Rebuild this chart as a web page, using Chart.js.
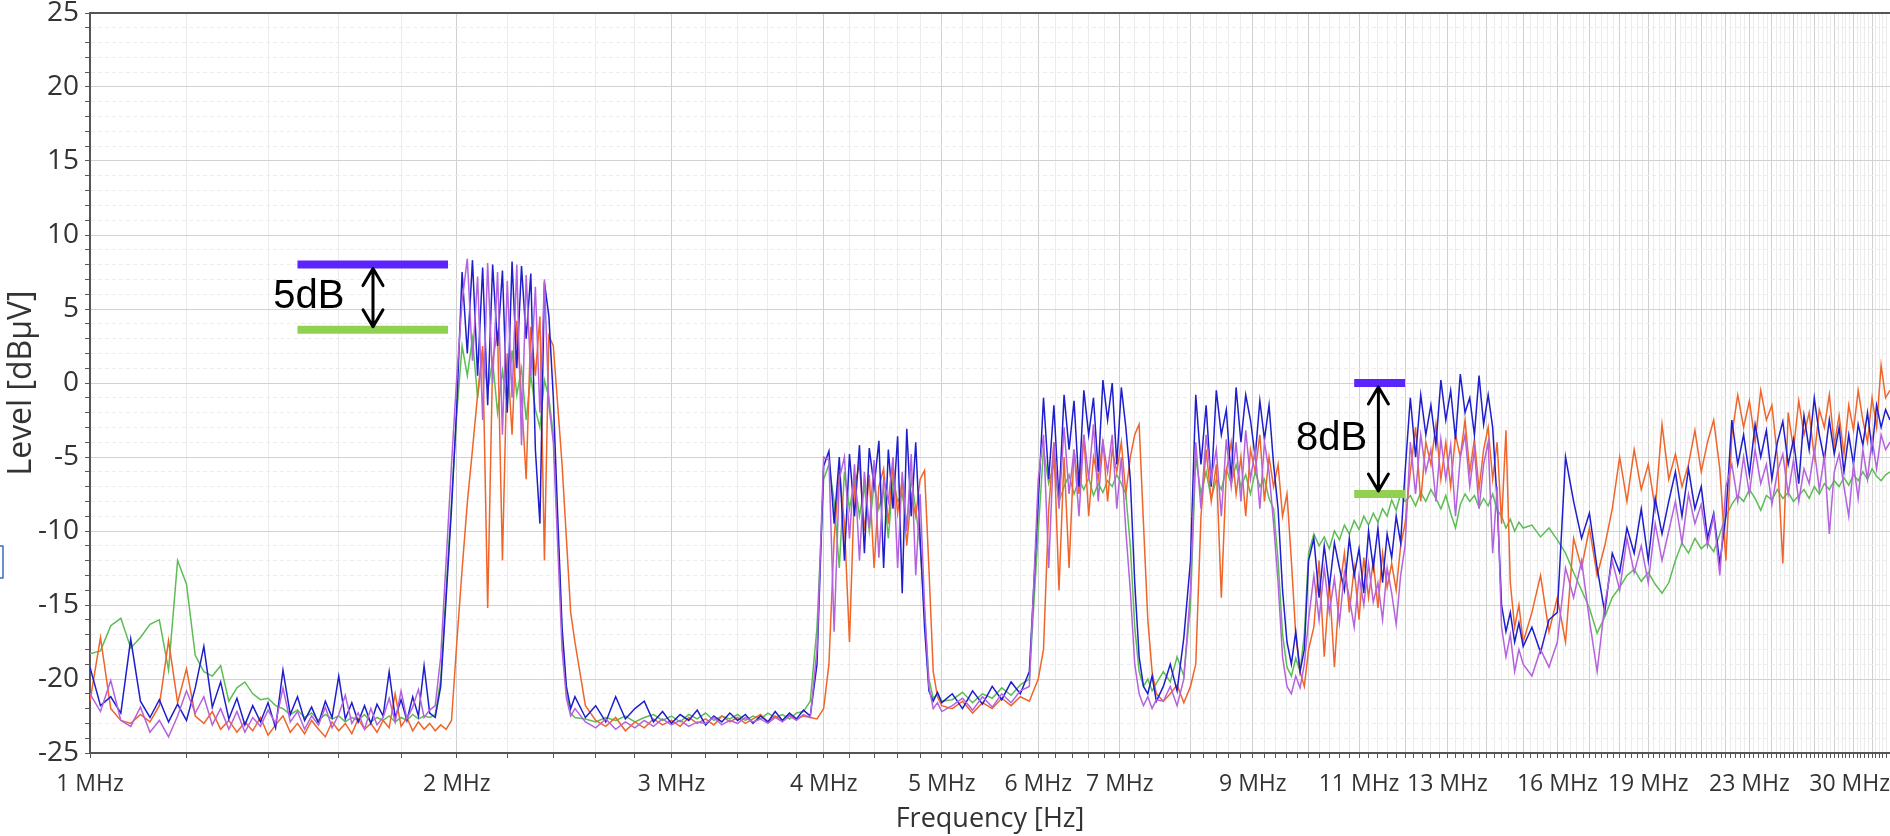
<!DOCTYPE html>
<html lang="en">
<head>
  <meta charset="UTF-8">
  <title>Level vs Frequency</title>
  <script src="https://cdn.jsdelivr.net/npm/chart.js@4.4.1/dist/chart.umd.min.js"></script>
  <style>
    html, body { margin: 0; padding: 0; background: #fff; }
    #wrap { width: 1890px; height: 836px; }
  </style>
</head>
<body>
  <div id="wrap"><canvas id="levelChart" width="1890" height="836"></canvas></div>

  <script type="text/javascript">
    // sweep points, MHz
    const freqMHz = [
      1.00,1.02,1.04,1.06,1.08,1.10,1.12,1.14,1.16,1.18,1.20,1.22,1.24,1.26,1.28,1.30,1.32,1.34,1.36,1.38,
      1.40,1.42,1.44,1.46,1.48,1.50,1.52,1.54,1.56,1.58,1.60,1.62,1.64,1.66,1.68,1.70,1.72,1.74,1.76,1.78,
      1.80,1.82,1.84,1.86,1.88,1.90,1.92,1.94,1.96,1.98,2.00,
      2.02,2.04,2.06,2.08,2.10,2.12,2.14,2.16,2.18,2.20,2.22,2.24,2.26,2.28,2.30,2.32,2.34,2.36,2.38,2.40,
      2.42,2.44,2.46,2.48,2.50,
      2.55,2.60,2.65,2.70,2.75,2.80,2.85,2.90,2.95,3.00,3.05,3.10,3.15,3.20,3.25,3.30,3.35,3.40,3.45,3.50,
      3.55,3.60,3.65,3.70,3.75,3.80,3.85,3.90,3.95,4.00,
      4.04,4.08,4.12,4.16,4.20,4.24,4.28,4.32,4.36,4.40,4.44,4.48,4.52,4.56,4.60,4.64,4.68,4.72,4.76,4.80,
      4.84,4.88,4.92,4.96,5.00,
      5.1,5.2,5.3,5.4,5.5,5.6,5.7,5.8,5.9,6.0,
      6.06,6.12,6.18,6.24,6.30,6.36,6.42,6.48,6.54,6.60,6.66,6.72,6.78,6.84,6.90,6.96,7.02,7.08,7.14,7.20,
      7.26,7.32,7.38,7.44,7.50,
      7.6,7.7,7.8,7.9,8.0,
      8.08,8.16,8.24,8.32,8.40,8.48,8.56,8.64,8.72,8.80,8.88,8.96,9.04,9.12,9.20,9.28,9.36,9.44,9.52,9.60,
      9.68,9.76,9.84,9.92,10.0,
      10.1,10.2,10.3,10.4,10.5,10.6,10.7,10.8,10.9,11.0,11.1,11.2,11.3,11.4,11.5,11.6,11.7,11.8,11.9,12.0,
      12.12,12.24,12.36,12.48,12.60,12.72,12.84,12.96,13.08,13.20,13.32,13.44,13.56,13.68,13.80,13.92,14.04,14.16,14.28,14.40,
      14.52,14.64,14.76,14.88,15.00,
      15.25,15.5,15.75,16.0,16.25,16.5,16.75,17.0,17.25,17.5,17.75,18.0,18.25,18.5,18.75,19.0,19.25,19.5,19.75,20.0,
      20.25,20.5,20.75,21.0,21.25,21.5,21.75,22.0,22.25,22.5,22.75,23.0,23.25,23.5,23.75,24.0,24.25,24.5,24.75,25.0,
      25.25,25.5,25.75,26.0,26.25,26.5,26.75,27.0,27.25,27.5,27.75,28.0,28.25,28.5,28.75,29.0,29.25,29.5,29.75,30.0
    ];

    // dBuV, one value per sweep point
    const greenLevel = [
      -18.3,-18.1,-16.4,-15.9,-17.9,-17.2,-16.3,-16.0,-19.4,-12.0,-13.6,-18.4,-19.5,-19.8,-19.1,-21.5,-20.6,-20.2,-21.0,-21.4,
      -21.3,-21.8,-22.0,-22.4,-22.1,-22.6,-22.3,-22.8,-22.4,-22.7,-22.5,-22.9,-22.6,-22.8,-22.4,-22.9,-22.6,-22.8,-22.5,-22.9,
      -22.6,-22.8,-22.4,-22.7,-22.5,-22.6,-22.4,-20.0,-14.0,-8.0,-2.0,
      2.5,0.5,3.0,-1.0,2.0,-0.5,1.5,-2.0,0.8,-1.5,2.2,-0.8,1.0,-2.5,0.5,-1.8,-3.0,0.2,-1.0,-3.5,
      -10.0,-17.0,-21.0,-22.3,-22.6,
      -22.7,-22.9,-22.6,-22.8,-22.5,-22.9,-22.6,-22.4,-22.8,-22.5,-22.9,-22.4,-22.7,-22.3,-22.8,-22.5,-22.7,-22.4,-22.8,-22.5,
      -22.7,-22.3,-22.6,-22.4,-22.7,-22.3,-22.2,-21.5,-16.5,-6.5,
      -5.5,-8.0,-12.5,-6.0,-8.5,-6.5,-9.0,-7.0,-10.0,-6.8,-8.5,-7.2,-10.5,-6.5,-8.0,-7.5,-9.5,-6.5,-8.5,-11.0,
      -15.5,-20.0,-21.3,-21.0,-21.5,
      -21.4,-20.9,-21.6,-21.0,-21.3,-20.6,-21.1,-20.4,-20.0,-10.0,
      -4.5,-6.8,-5.5,-8.0,-7.0,-6.2,-7.5,-6.5,-7.2,-6.4,-7.6,-6.8,-7.4,-6.6,-7.0,-6.2,-6.8,-7.5,-11.0,-16.5,
      -19.5,-20.5,-20.0,-20.8,-20.3,
      -19.5,-20.2,-18.5,-19.8,-15.0,
      -5.0,-7.5,-6.0,-7.8,-6.5,-7.2,-5.8,-6.8,-5.5,-7.0,-6.2,-7.5,-6.0,-7.0,-6.5,-7.8,-8.5,-12.0,-17.0,-19.2,
      -19.8,-18.6,-19.5,-17.0,-11.5,
      -10.2,-11.0,-10.4,-11.2,-10.0,-10.6,-9.6,-10.2,-9.3,-9.9,-9.0,-9.6,-8.8,-9.4,-8.5,-9.0,-7.9,-8.6,-7.5,-8.0,
      -7.6,-8.3,-7.4,-8.0,-7.2,-7.8,-8.5,-7.6,-8.8,-9.8,-8.2,-7.5,-8.0,-7.6,-8.4,-7.8,-8.3,-7.5,-8.6,-9.0,
      -9.8,-9.2,-10.0,-9.4,-9.8,
      -9.6,-10.4,-9.8,-10.6,-11.5,-12.8,-14.0,-15.2,-16.9,-15.8,-14.5,-13.8,-13.0,-12.6,-13.4,-12.8,-13.6,-14.2,-13.5,-12.0,
      -10.8,-11.5,-10.5,-11.2,-10.8,-11.4,-10.2,-9.0,-8.2,-7.6,-8.0,-7.2,-7.8,-8.6,-7.6,-7.9,-7.2,-7.8,-7.4,-8.0,
      -7.6,-7.2,-7.8,-7.0,-7.5,-6.8,-7.2,-6.6,-7.0,-6.4,-6.9,-6.2,-6.6,-6.0,-6.5,-5.8,-6.3,-6.6,-6.2,-6.0
    ];

    const orangeLevel = [
      -21.5,-17.2,-22.0,-22.8,-23.0,-22.4,-22.9,-21.8,-17.4,-21.6,-19.3,-22.5,-23.0,-22.2,-23.4,-22.8,-23.6,-22.9,-23.5,-22.6,
      -23.8,-23.1,-22.5,-23.6,-23.0,-23.7,-22.8,-23.4,-23.9,-22.9,-23.5,-23.0,-23.7,-22.7,-23.4,-23.0,-23.6,-22.8,-23.3,-21.0,
      -23.2,-22.6,-23.5,-22.9,-23.4,-23.0,-23.5,-23.1,-23.4,-22.8,-17.5,
      -12.6,-8.1,-4.5,-0.8,2.5,-15.2,1.5,3.5,-12.0,2.0,-3.5,4.2,-1.0,-6.5,3.8,0.5,4.5,-12.0,3.2,2.5,
      -1.5,-5.5,-10.5,-15.5,-17.5,
      -21.8,-22.8,-23.2,-22.6,-23.5,-22.9,-23.3,-22.7,-23.1,-22.8,-23.2,-22.6,-23.0,-22.7,-23.1,-22.5,-22.9,-22.6,-23.0,-22.7,
      -22.4,-22.9,-22.5,-22.8,-22.4,-22.7,-22.5,-22.6,-22.7,-22.0,
      -19.0,-10.5,-6.0,-9.5,-17.5,-7.0,-5.5,-10.0,-6.2,-12.5,-7.0,-5.8,-9.5,-5.5,-8.8,-6.5,-11.0,-7.5,-9.0,-6.5,
      -5.9,-12.5,-19.5,-21.2,-21.8,
      -22.0,-21.5,-22.3,-21.6,-22.0,-21.3,-21.8,-21.2,-21.5,-20.0,
      -18.0,-8.5,-4.0,-14.0,-5.0,-12.5,-4.5,-7.5,-3.5,-9.0,-5.0,-6.5,-3.8,-8.0,-4.5,-6.0,-4.0,-7.5,-5.0,-3.5,
      -2.8,-9.5,-16.0,-19.5,-21.0,
      -21.5,-21.0,-20.4,-21.6,-20.5,
      -19.0,-9.0,-4.5,-8.0,-5.5,-14.5,-6.0,-4.0,-7.5,-5.0,-9.0,-4.5,-6.0,-3.5,-8.0,-5.0,-7.0,-5.5,-9.0,-7.5,
      -12.0,-17.0,-19.5,-20.5,-18.0,
      -16.5,-12.0,-18.5,-13.5,-19.2,-14.0,-11.5,-15.5,-12.5,-16.0,-11.8,-14.5,-12.0,-15.2,-11.5,-13.8,-12.2,-14.0,-11.0,-9.5,
      -6.0,-3.0,-8.0,-4.0,-5.5,-2.8,-6.5,-4.0,-7.0,-3.5,-5.0,-2.5,-6.0,-3.8,-7.2,-4.5,-3.0,-6.5,-4.0,-9.5,
      -3.2,-13.5,-16.5,-15.0,-17.5,
      -15.5,-13.0,-16.8,-14.5,-17.5,-10.5,-12.5,-9.8,-13.0,-11.0,-8.5,-5.0,-8.0,-4.5,-7.2,-5.5,-8.5,-2.8,-6.5,-4.8,
      -7.0,-5.5,-3.2,-6.0,-4.0,-2.5,-5.8,-12.0,-3.5,-0.8,-3.0,-1.2,-4.0,-0.5,-2.5,-1.5,-5.0,-12.2,-2.0,-4.5,
      -1.2,-3.5,-2.0,-5.0,-1.8,-3.0,-0.8,-4.2,-2.2,-4.8,-1.5,-3.2,-0.5,-2.5,-4.0,-1.0,-3.0,1.2,-1.0,-0.5
    ];

    const blueLevel = [
      -19.2,-21.8,-21.2,-22.3,-17.3,-21.5,-22.6,-21.4,-22.9,-21.7,-22.8,-20.6,-17.8,-21.9,-20.2,-22.7,-21.3,-23.1,-21.8,-22.9,
      -21.6,-23.3,-19.4,-22.4,-21.2,-22.8,-21.9,-23.0,-21.5,-22.6,-19.8,-22.7,-21.6,-22.9,-21.8,-23.0,-21.7,-22.5,-19.5,-22.6,
      -21.4,-22.8,-21.2,-22.5,-19.1,-22.3,-22.6,-20.5,-14.5,-8.5,-1.5,
      7.5,2.0,8.3,0.5,7.8,-1.5,8.0,2.5,7.6,-2.0,8.2,1.0,7.9,3.0,7.4,-4.5,-9.5,6.8,4.5,-1.0,
      -9.0,-16.5,-20.5,-22.0,-21.2,
      -22.6,-21.8,-22.9,-21.2,-22.7,-22.0,-21.5,-22.9,-22.2,-23.0,-22.4,-22.8,-22.1,-23.1,-22.5,-22.9,-22.3,-22.8,-22.4,-23.0,
      -22.5,-22.9,-22.2,-22.8,-22.3,-22.7,-22.1,-22.5,-19.0,-5.6,
      -4.6,-9.5,-5.0,-12.0,-4.8,-9.0,-4.2,-11.5,-4.4,-7.0,-3.9,-12.5,-4.5,-8.5,-3.6,-14.2,-3.1,-9.0,-4.0,-10.5,
      -16.5,-20.8,-21.5,-20.9,-21.6,
      -21.0,-22.0,-20.8,-21.7,-20.5,-21.4,-20.2,-21.0,-19.5,-8.0,
      -1.0,-6.5,-1.5,-8.0,-0.8,-4.5,-1.2,-7.0,-0.5,-3.5,-1.0,-6.0,0.2,-2.5,0.0,-5.5,-0.3,-3.0,-6.5,-13.5,
      -18.5,-20.5,-21.0,-19.8,-21.5,
      -20.5,-19.0,-20.8,-17.2,-12.0,
      -0.8,-5.5,-1.5,-7.0,-0.5,-3.5,-1.8,-6.5,-0.3,-4.0,-0.8,-2.5,-5.0,-1.2,-3.8,-1.5,-5.5,-8.5,-14.0,-17.5,
      -19.0,-16.8,-19.5,-18.0,-12.0,
      -10.5,-14.5,-11.0,-13.8,-10.8,-12.5,-14.0,-10.5,-13.0,-11.2,-14.2,-10.0,-12.5,-9.8,-13.5,-10.2,-11.8,-9.0,-10.8,-6.0,
      -1.0,-5.0,-0.8,-3.5,-1.5,-4.2,0.2,-2.5,-0.5,-3.8,0.6,-2.0,-1.0,-3.5,0.5,-2.8,-0.8,-3.0,-8.0,-15.0,
      -16.8,-15.5,-17.5,-16.2,-17.8,
      -16.5,-18.2,-16.0,-15.5,-5.0,-8.0,-10.5,-8.8,-12.5,-15.5,-11.5,-12.8,-9.8,-11.5,-8.5,-12.0,-7.8,-10.2,-8.0,-6.0,
      -9.0,-5.8,-8.5,-7.0,-10.5,-8.8,-12.2,-9.0,-2.5,-5.5,-3.5,-6.2,-2.8,-5.0,-3.2,-6.5,-4.0,-2.6,-5.5,-3.8,
      -6.8,-2.2,-4.5,-1.0,-3.5,-5.2,-2.5,-4.8,-3.0,-6.0,-3.5,-5.5,-2.8,-4.2,-2.0,-4.5,-1.5,-3.0,-1.8,-2.5
    ];

    const purpleLevel = [
      -21.0,-22.2,-20.1,-22.8,-23.2,-21.9,-23.6,-22.8,-23.9,-22.5,-20.8,-22.3,-21.2,-23.1,-22.0,-23.4,-22.2,-23.6,-22.6,-23.2,
      -22.1,-23.0,-20.6,-22.9,-22.2,-23.4,-22.5,-23.1,-21.9,-23.3,-22.4,-21.1,-23.0,-22.3,-23.4,-22.0,-23.1,-22.6,-21.3,-22.9,
      -20.8,-22.7,-21.9,-20.7,-22.6,-22.1,-21.8,-18.5,-12.0,-5.5,0.5,
      5.5,8.4,1.5,7.2,-2.5,8.1,0.0,7.5,-3.5,6.9,-1.0,8.0,-4.2,7.3,0.5,6.5,-2.0,7.0,-1.5,-4.0,
      -11.0,-18.0,-21.3,-22.5,-22.0,
      -22.9,-23.3,-22.7,-23.4,-22.9,-23.3,-22.8,-23.2,-22.7,-23.1,-22.8,-23.2,-22.9,-23.0,-22.6,-23.1,-22.8,-23.0,-22.6,-22.9,
      -22.7,-23.0,-22.6,-22.9,-22.5,-22.8,-22.4,-22.6,-18.0,-5.0,
      -5.2,-16.8,-6.5,-5.0,-10.5,-5.5,-12.0,-6.0,-9.8,-5.2,-11.8,-6.5,-8.0,-5.0,-12.5,-6.0,-10.0,-4.8,-13.0,-7.5,
      -15.0,-20.5,-22.0,-21.6,-22.2,
      -21.8,-21.3,-22.1,-21.2,-21.9,-21.0,-21.6,-20.8,-20.5,-6.5,
      -3.5,-12.5,-4.0,-8.5,-3.0,-7.5,-4.5,-9.0,-3.5,-6.5,-2.8,-8.0,-4.0,-6.0,-3.5,-8.5,-5.0,-10.0,-14.0,-19.0,
      -21.0,-21.8,-21.2,-22.0,-21.4,
      -21.5,-20.5,-21.8,-20.0,-14.0,
      -4.0,-8.5,-3.5,-6.5,-4.5,-9.0,-3.8,-7.0,-4.0,-8.0,-3.2,-6.5,-4.5,-8.5,-4.0,-6.0,-9.5,-13.5,-18.5,-20.5,
      -21.0,-19.8,-20.6,-19.0,-16.0,
      -13.0,-16.0,-12.5,-15.5,-13.2,-16.2,-12.8,-14.5,-16.5,-13.0,-15.0,-12.2,-14.8,-13.5,-16.0,-12.5,-14.2,-16.3,-13.0,-11.0,
      -4.0,-7.5,-3.5,-6.0,-4.5,-8.0,-3.8,-6.5,-4.2,-9.0,-5.0,-3.5,-7.0,-4.5,-8.5,-5.5,-4.0,-11.5,-7.0,-16.5,
      -18.5,-17.0,-19.5,-18.0,-19.0,
      -19.8,-18.0,-19.2,-17.5,-12.5,-14.5,-12.0,-16.0,-19.5,-15.0,-12.0,-14.0,-10.5,-12.8,-11.0,-13.5,-9.5,-12.0,-10.0,-8.0,
      -10.8,-7.5,-9.5,-8.2,-11.0,-9.0,-13.0,-7.0,-5.5,-8.0,-5.0,-7.5,-4.5,-6.8,-5.5,-8.2,-6.0,-4.8,-7.5,-5.2,
      -8.0,-5.8,-6.8,-4.5,-7.2,-5.0,-10.2,-6.0,-4.8,-7.0,-9.0,-5.5,-7.8,-4.5,-6.5,-3.8,-5.8,-3.5,-4.5,-4.0
    ];

    // labelled frequencies on the x axis
    const labelledMHz = [1, 2, 3, 4, 5, 6, 7, 9, 11, 13, 16, 19, 23, 30];

    // level-gap markers drawn on the plot
    const markerSpans = [[1.48, 1.967], [10.9, 12.0]];
    const markerHigh = [8.0, 0.0];
    const markerLow = [3.6, -7.5];
    const markerArrowAt = [1.707, 11.41];
    const markerLabels = ['5dB', '8dB'];
    const markerLabelAt = [1.617, 11.17];

    const family = '"Open Sans", "Noto Sans", sans-serif';
    const xTickFont = { family: family, size: 23 };
    const yTickFont = { family: family, size: 28 };
    const xTitleFont = { family: family, size: 27 };
    const yTitleFont = { family: family, size: 32 };

    function toPoints(levels) {
      return freqMHz.map((f, i) => ({ x: f, y: levels[i] }));
    }

    const traces = [
      { data: purpleLevel, color: '#b462de', order: 1 },
      { data: blueLevel, color: '#1e1ece', order: 2 },
      { data: orangeLevel, color: '#f0652a', order: 3 },
      { data: greenLevel, color: '#5dbd55', order: 4 }
    ];

    const datasets = traces.map(t => ({
      data: toPoints(t.data),
      borderColor: t.color,
      borderWidth: 1.5,
      pointRadius: 0,
      tension: 0,
      order: t.order
    }));

    markerSpans.forEach((span, i) => {
      datasets.push({
        data: [{ x: span[0], y: markerHigh[i] }, { x: span[1], y: markerHigh[i] }],
        borderColor: '#5b24ff', borderWidth: 8, pointRadius: 0, order: 0
      });
      datasets.push({
        data: [{ x: span[0], y: markerLow[i] }, { x: span[1], y: markerLow[i] }],
        borderColor: '#92d050', borderWidth: 8, pointRadius: 0, order: 0
      });
    });

    // frame top, gap arrows + labels, and the cut-off box on the far left
    const decorations = {
      id: 'decorations',
      afterDatasetsDraw(chart) {
        const ctx = chart.ctx;
        const area = chart.chartArea;
        const xs = chart.scales.x, ys = chart.scales.y;
        ctx.save();
        ctx.strokeStyle = '#555';
        ctx.lineWidth = 2;
        ctx.beginPath();
        ctx.moveTo(area.left, area.top);
        ctx.lineTo(area.right, area.top);
        ctx.stroke();

        ctx.strokeStyle = '#000';
        ctx.lineWidth = 3;
        ctx.lineCap = 'round';
        ctx.lineJoin = 'round';
        markerArrowAt.forEach((f, i) => {
          const px = xs.getPixelForValue(f);
          const top = ys.getPixelForValue(markerHigh[i]) + 4;
          const bot = ys.getPixelForValue(markerLow[i]) - 3;
          ctx.beginPath();
          ctx.moveTo(px, top);
          ctx.lineTo(px, bot);
          ctx.moveTo(px - 10, top + 17);
          ctx.lineTo(px, top);
          ctx.lineTo(px + 10, top + 17);
          ctx.moveTo(px - 10, bot - 17);
          ctx.lineTo(px, bot);
          ctx.lineTo(px + 10, bot - 17);
          ctx.stroke();

          ctx.fillStyle = '#000';
          ctx.font = '40px "Liberation Sans", Arial, sans-serif';
          ctx.textAlign = 'right';
          ctx.textBaseline = 'middle';
          ctx.fillText(markerLabels[i], xs.getPixelForValue(markerLabelAt[i]),
            ys.getPixelForValue((markerHigh[i] + markerLow[i]) / 2));
        });

        ctx.strokeStyle = '#3d6cc0';
        ctx.lineWidth = 1.5;
        ctx.strokeRect(-4, 546, 7, 32);
        ctx.restore();
      }
    };

    const config = {
      type: 'line',
      data: { datasets: datasets },
      options: {
        responsive: false,
        animation: false,
        parsing: false,
        normalized: true,
        layout: { padding: { top: 13, right: 0, bottom: 0, left: 0 } },
        plugins: {
          legend: { display: false },
          tooltip: { enabled: false }
        },
        scales: {
          x: {
            type: 'logarithmic',
            min: 1,
            max: 30,
            afterBuildTicks(scale) {
              const t = [{ value: 1 }]; // blank first tick so the 'inner' alignment only hits the end label
              for (let k = 10; k <= 300; k += 2) t.push({ value: k / 10 });
              scale.ticks = t;
            },
            afterFit(scale) {
              scale.height = 83;
              scale.paddingLeft = 0;
              scale.paddingRight = 0;
            },
            ticks: {
              autoSkip: false,
              maxRotation: 0,
              minRotation: 0,
              align: 'inner',
              padding: 13,
              color: '#333',
              font: xTickFont,
              callback: (v, i) => (i > 0 && labelledMHz.includes(v)) ? v + ' MHz' : ''
            },
            grid: {
              color: c => (c.tick && Number.isInteger(c.tick.value)) ? '#d0d0d0' : '#ececec',
              lineWidth: 1,
              tickLength: 5,
              tickColor: '#555'
            },
            border: { color: '#555', width: 2 },
            title: {
              display: true,
              text: 'Frequency [Hz]',
              color: '#333',
              font: xTitleFont,
              padding: { top: 0, bottom: 0 }
            }
          },
          y: {
            min: -25,
            max: 25,
            afterFit(scale) {
              scale.width = 90;
              scale.paddingTop = 0;
              scale.paddingBottom = 0;
            },
            ticks: {
              stepSize: 1,
              autoSkip: false,
              padding: 6,
              color: '#333',
              font: yTickFont,
              callback: v => (v % 5 === 0) ? String(v) : ''
            },
            grid: {
              color: c => (c.tick && c.tick.value % 5 === 0) ? '#d2d2d2' : '#ececec',
              lineWidth: 1,
              tickLength: 5,
              tickColor: '#555'
            },
            border: {
              color: '#555',
              width: 2,
              dash: c => (c.tick && c.tick.value % 5 !== 0) ? [4, 3] : []
            },
            title: {
              display: true,
              text: 'Level [dBµV]',
              color: '#333',
              font: yTitleFont,
              padding: { top: 3, bottom: 0 }
            }
          }
        }
      },
      plugins: [decorations]
    };

    new Chart(document.getElementById('levelChart'), config);
  </script>
</body>
</html>
